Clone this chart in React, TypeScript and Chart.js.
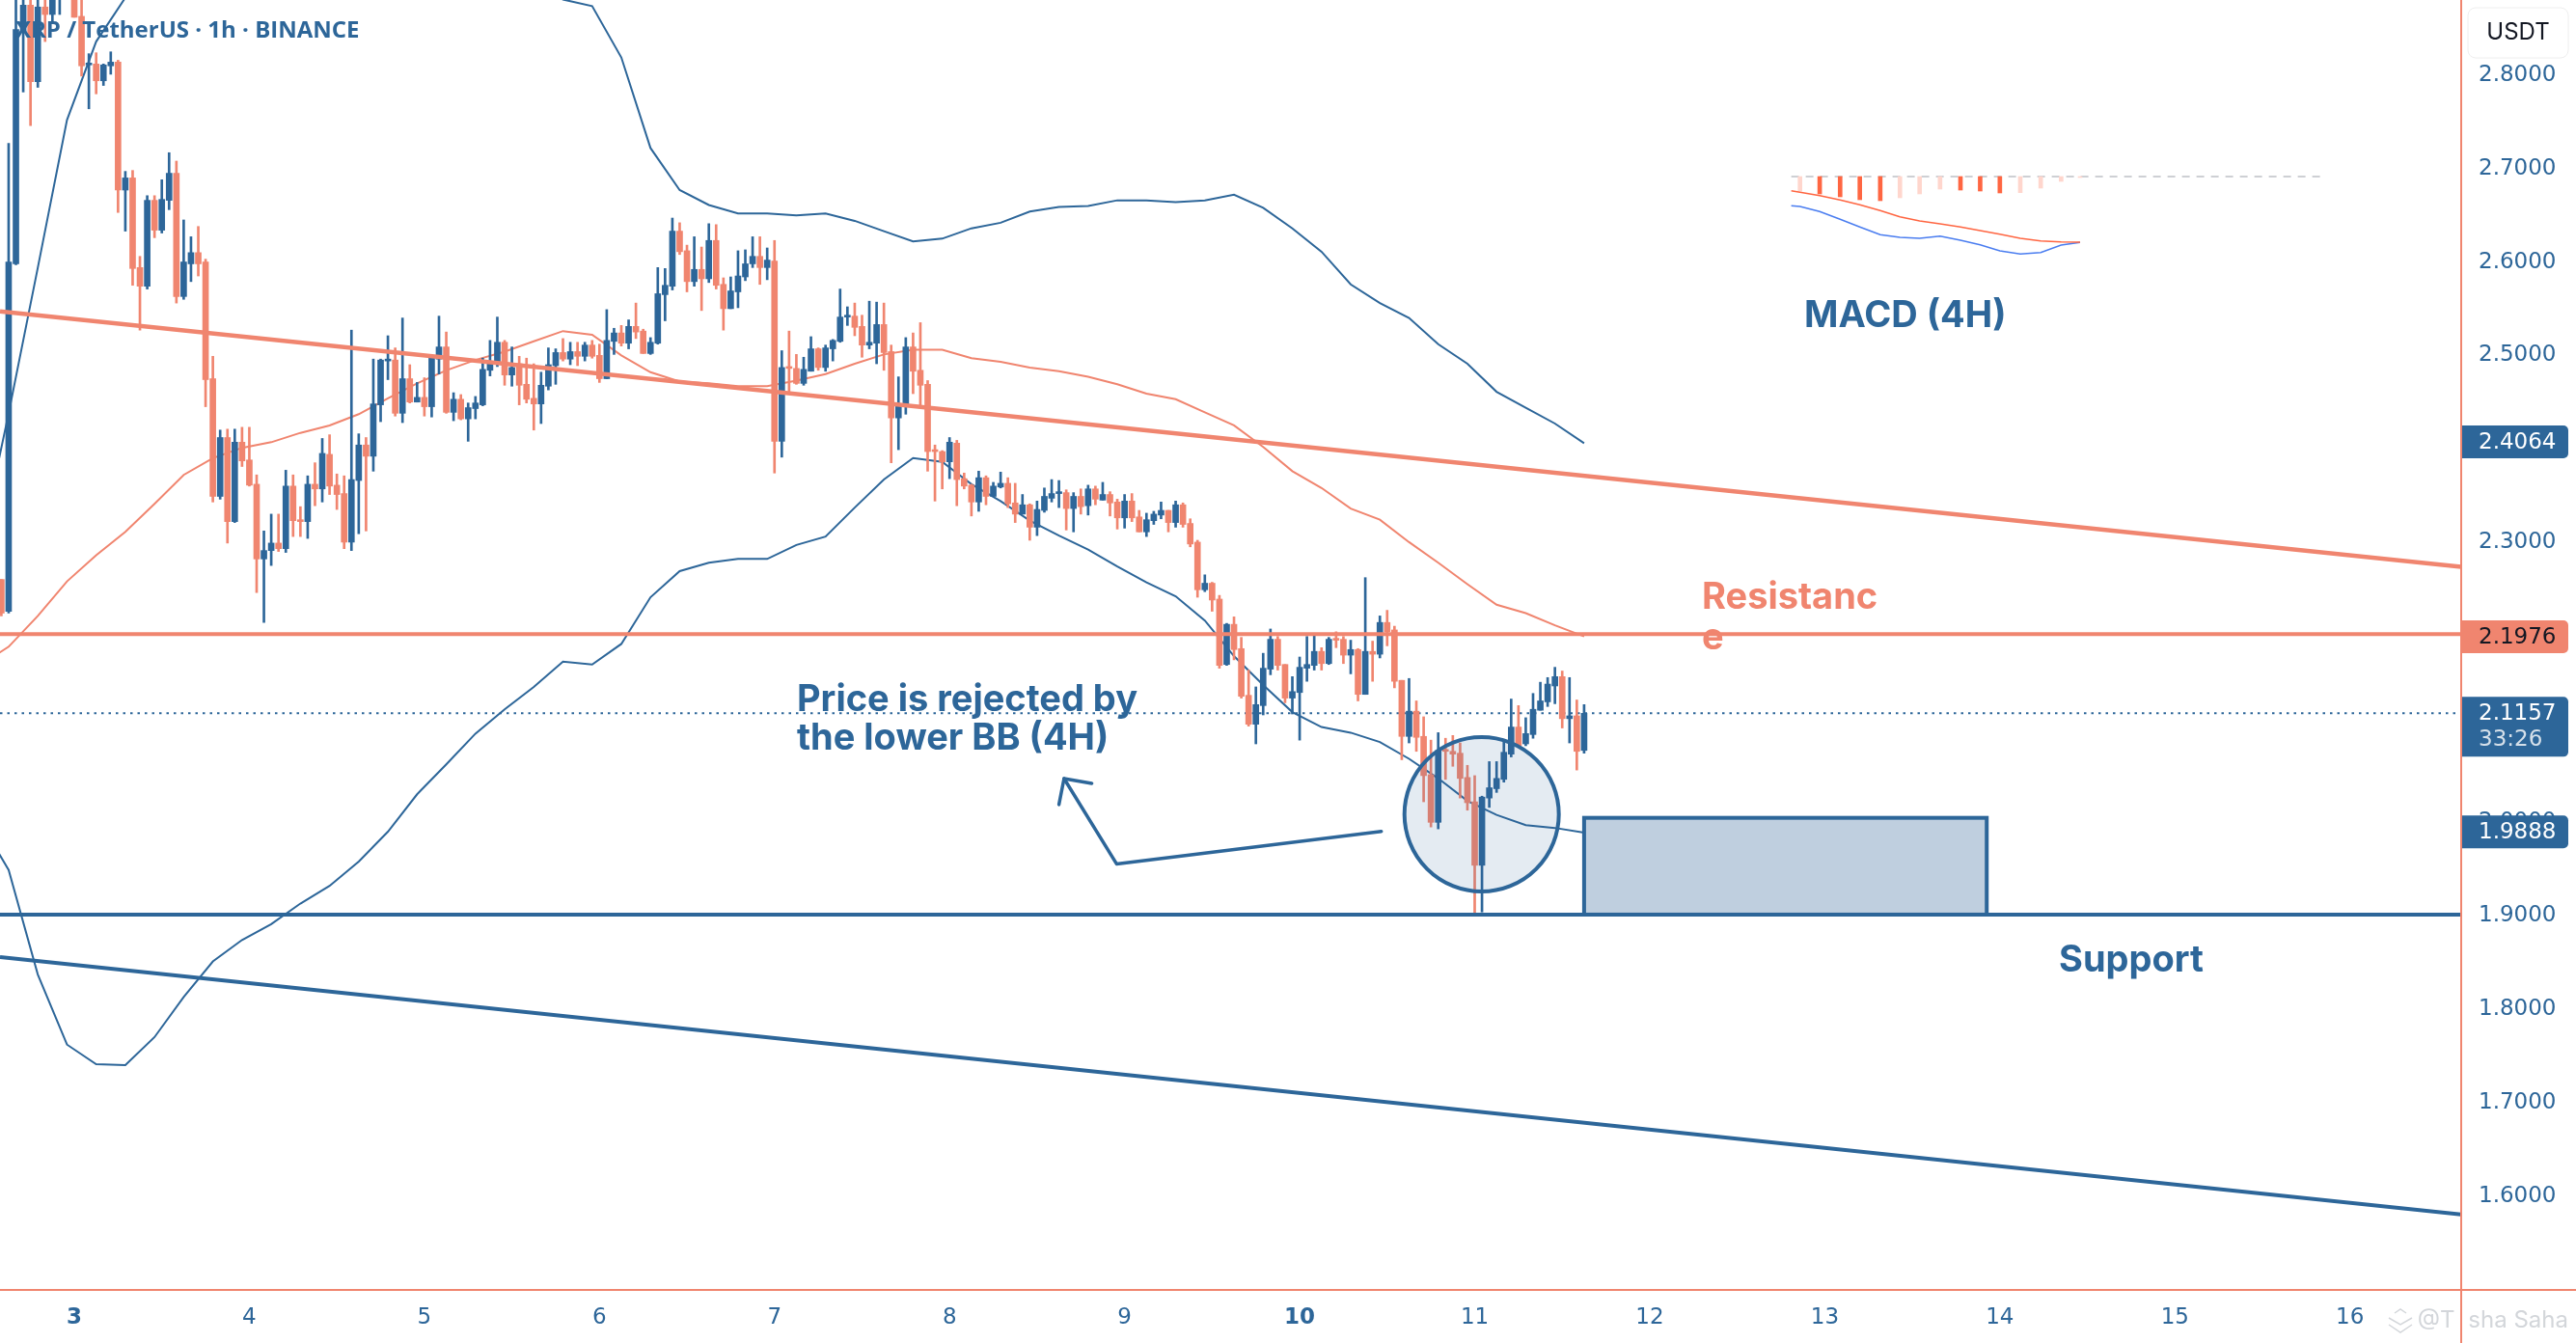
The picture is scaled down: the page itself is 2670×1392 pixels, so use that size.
import { Chart, registerables } from "chart.js";
import React, { useEffect, useRef } from "react";

Chart.register(...registerables);

const BLUE = "#2d6699";
const SALMON = "#f0856f";
const AXIS_FONT = "'DejaVu Sans'";

// one candle per hour, hour 0 is the start of day 3
const firstHour = -10;
const candleOpen = [
  2.259, 2.225, 2.597, 2.845, 2.874, 2.792, 2.872, 2.864, 2.882, 2.915,
  2.882, 2.862, 2.81, 2.811, 2.793, 2.809, 2.813, 2.676, 2.689, 2.593,
  2.573, 2.665, 2.633, 2.665, 2.694, 2.562, 2.597, 2.609, 2.599, 2.474,
  2.348, 2.411, 2.321, 2.406, 2.387, 2.361, 2.281, 2.29, 2.298, 2.292,
  2.359, 2.323, 2.321, 2.361, 2.356, 2.393, 2.36, 2.351, 2.299, 2.365,
  2.403, 2.391, 2.446, 2.493, 2.494, 2.437, 2.474, 2.449, 2.454, 2.444,
  2.495, 2.508, 2.438, 2.452, 2.431, 2.442, 2.446, 2.483, 2.49, 2.513,
  2.478, 2.49, 2.468, 2.453, 2.447, 2.466, 2.488, 2.502, 2.495, 2.503,
  2.498, 2.51, 2.499, 2.474, 2.514, 2.523, 2.512, 2.53, 2.525, 2.501,
  2.512, 2.564, 2.573, 2.632, 2.611, 2.578, 2.591, 2.581, 2.622, 2.575,
  2.549, 2.567, 2.583, 2.597, 2.605, 2.593, 2.6, 2.407, 2.487, 2.485,
  2.469, 2.482, 2.506, 2.486, 2.506, 2.514, 2.54, 2.541, 2.53, 2.51,
  2.512, 2.532, 2.503, 2.432, 2.446, 2.508, 2.483, 2.468, 2.398, 2.396,
  2.385, 2.405, 2.367, 2.36, 2.342, 2.368, 2.348, 2.358, 2.362, 2.341,
  2.329, 2.339, 2.315, 2.333, 2.346, 2.351, 2.352, 2.335, 2.348, 2.338,
  2.356, 2.344, 2.35, 2.342, 2.325, 2.343, 2.326, 2.31, 2.322, 2.328,
  2.333, 2.32, 2.339, 2.319, 2.299, 2.248, 2.255, 2.238, 2.168, 2.211,
  2.185, 2.135, 2.104, 2.124, 2.163, 2.195, 2.168, 2.132, 2.138, 2.164,
  2.167, 2.182, 2.169, 2.196, 2.195, 2.178, 2.184, 2.136, 2.182, 2.179,
  2.213, 2.205, 2.151, 2.091, 2.118, 2.091, 2.05, 1.999, 2.077, 2.075,
  2.073, 2.047, 2.021, 1.953, 2.025, 2.035, 2.045, 2.072, 2.101, 2.083,
  2.093, 2.119, 2.128, 2.145, 2.155, 2.11, 2.113, 2.076,
];
const candleHigh = [
  2.259, 2.726, 2.89, 2.89, 2.89, 2.89, 2.89, 2.895, 2.905, 2.925,
  2.9, 2.885, 2.822, 2.823, 2.811, 2.824, 2.815, 2.696, 2.697, 2.605,
  2.67, 2.67, 2.687, 2.716, 2.707, 2.644, 2.626, 2.637, 2.602, 2.498,
  2.419, 2.42, 2.42, 2.422, 2.422, 2.371, 2.311, 2.329, 2.329, 2.376,
  2.371, 2.337, 2.37, 2.384, 2.41, 2.414, 2.372, 2.37, 2.526, 2.415,
  2.411, 2.495, 2.495, 2.52, 2.507, 2.539, 2.489, 2.47, 2.475, 2.496,
  2.541, 2.524, 2.459, 2.457, 2.448, 2.455, 2.496, 2.515, 2.54, 2.515,
  2.508, 2.498, 2.496, 2.49, 2.481, 2.507, 2.506, 2.517, 2.513, 2.513,
  2.513, 2.515, 2.511, 2.548, 2.528, 2.531, 2.537, 2.555, 2.527, 2.518,
  2.593, 2.592, 2.646, 2.641, 2.617, 2.626, 2.615, 2.64, 2.639, 2.582,
  2.583, 2.611, 2.612, 2.626, 2.626, 2.614, 2.622, 2.504, 2.525, 2.5,
  2.497, 2.519, 2.507, 2.51, 2.516, 2.57, 2.551, 2.555, 2.542, 2.557,
  2.556, 2.555, 2.51, 2.476, 2.518, 2.523, 2.534, 2.472, 2.403, 2.397,
  2.411, 2.408, 2.373, 2.361, 2.375, 2.37, 2.363, 2.374, 2.368, 2.362,
  2.35, 2.34, 2.343, 2.357, 2.366, 2.365, 2.355, 2.352, 2.356, 2.36,
  2.359, 2.363, 2.353, 2.345, 2.35, 2.351, 2.333, 2.33, 2.332, 2.342,
  2.333, 2.343, 2.341, 2.324, 2.301, 2.264, 2.256, 2.242, 2.212, 2.219,
  2.197, 2.162, 2.144, 2.18, 2.206, 2.198, 2.168, 2.155, 2.176, 2.198,
  2.201, 2.186, 2.197, 2.203, 2.198, 2.194, 2.185, 2.261, 2.193, 2.22,
  2.226, 2.209, 2.151, 2.153, 2.129, 2.112, 2.087, 2.095, 2.089, 2.092,
  2.084, 2.06, 2.049, 2.027, 2.064, 2.064, 2.086, 2.131, 2.124, 2.111,
  2.137, 2.149, 2.154, 2.165, 2.161, 2.154, 2.13, 2.125,
];
const candleLow = [
  2.22, 2.223, 2.596, 2.781, 2.745, 2.786, 2.835, 2.856, 2.864, 2.892,
  2.861, 2.798, 2.763, 2.779, 2.788, 2.8, 2.652, 2.632, 2.574, 2.526,
  2.57, 2.625, 2.63, 2.655, 2.555, 2.559, 2.578, 2.584, 2.444, 2.342,
  2.345, 2.298, 2.32, 2.38, 2.359, 2.245, 2.213, 2.274, 2.289, 2.288,
  2.305, 2.305, 2.303, 2.338, 2.342, 2.35, 2.334, 2.292, 2.29, 2.308,
  2.311, 2.375, 2.428, 2.473, 2.434, 2.427, 2.448, 2.449, 2.434, 2.433,
  2.479, 2.437, 2.429, 2.43, 2.407, 2.431, 2.445, 2.477, 2.487, 2.467,
  2.466, 2.446, 2.448, 2.419, 2.426, 2.462, 2.468, 2.493, 2.489, 2.488,
  2.493, 2.496, 2.47, 2.474, 2.5, 2.509, 2.506, 2.517, 2.501, 2.5,
  2.511, 2.536, 2.569, 2.607, 2.567, 2.573, 2.547, 2.577, 2.57, 2.526,
  2.549, 2.55, 2.579, 2.593, 2.575, 2.58, 2.373, 2.39, 2.458, 2.468,
  2.467, 2.482, 2.483, 2.482, 2.493, 2.513, 2.531, 2.52, 2.497, 2.506,
  2.49, 2.483, 2.384, 2.398, 2.436, 2.458, 2.445, 2.375, 2.343, 2.356,
  2.367, 2.338, 2.356, 2.327, 2.332, 2.339, 2.348, 2.357, 2.336, 2.32,
  2.329, 2.301, 2.306, 2.331, 2.342, 2.336, 2.312, 2.31, 2.329, 2.328,
  2.339, 2.344, 2.327, 2.313, 2.314, 2.321, 2.31, 2.305, 2.318, 2.324,
  2.31, 2.315, 2.315, 2.294, 2.24, 2.246, 2.225, 2.164, 2.167, 2.173,
  2.132, 2.102, 2.083, 2.114, 2.157, 2.162, 2.127, 2.115, 2.087, 2.15,
  2.162, 2.162, 2.168, 2.186, 2.169, 2.158, 2.129, 2.136, 2.15, 2.175,
  2.188, 2.143, 2.066, 2.084, 2.075, 2.021, 1.994, 1.992, 2.045, 2.059,
  2.025, 2.012, 1.899, 1.903, 2.015, 2.031, 2.042, 2.069, 2.079, 2.081,
  2.089, 2.119, 2.123, 2.126, 2.1, 2.084, 2.055, 2.073,
];
const candleClose = [
  2.223, 2.599, 2.848, 2.874, 2.792, 2.872, 2.864, 2.883, 2.895, 2.9,
  2.861, 2.809, 2.812, 2.793, 2.81, 2.813, 2.676, 2.689, 2.592, 2.573,
  2.665, 2.633, 2.666, 2.694, 2.562, 2.599, 2.609, 2.597, 2.473, 2.348,
  2.411, 2.321, 2.406, 2.386, 2.36, 2.281, 2.29, 2.298, 2.292, 2.359,
  2.322, 2.321, 2.361, 2.356, 2.394, 2.359, 2.35, 2.299, 2.366, 2.403,
  2.391, 2.447, 2.494, 2.495, 2.437, 2.474, 2.449, 2.454, 2.444, 2.496,
  2.508, 2.438, 2.452, 2.431, 2.443, 2.448, 2.484, 2.491, 2.513, 2.478,
  2.486, 2.467, 2.452, 2.447, 2.467, 2.489, 2.502, 2.495, 2.503, 2.498,
  2.51, 2.498, 2.474, 2.515, 2.523, 2.512, 2.53, 2.524, 2.501, 2.513,
  2.565, 2.574, 2.632, 2.61, 2.578, 2.591, 2.581, 2.622, 2.574, 2.549,
  2.568, 2.584, 2.597, 2.605, 2.593, 2.601, 2.407, 2.486, 2.485, 2.469,
  2.484, 2.506, 2.486, 2.507, 2.515, 2.54, 2.542, 2.529, 2.51, 2.513,
  2.532, 2.502, 2.432, 2.447, 2.508, 2.482, 2.467, 2.396, 2.396, 2.385,
  2.406, 2.366, 2.359, 2.342, 2.368, 2.348, 2.359, 2.362, 2.34, 2.329,
  2.339, 2.315, 2.334, 2.348, 2.351, 2.353, 2.335, 2.348, 2.337, 2.356,
  2.345, 2.35, 2.341, 2.325, 2.343, 2.325, 2.31, 2.323, 2.329, 2.333,
  2.32, 2.339, 2.318, 2.297, 2.248, 2.255, 2.237, 2.167, 2.211, 2.184,
  2.134, 2.104, 2.125, 2.164, 2.195, 2.167, 2.132, 2.139, 2.165, 2.168,
  2.182, 2.169, 2.195, 2.194, 2.178, 2.184, 2.136, 2.182, 2.179, 2.213,
  2.203, 2.15, 2.091, 2.118, 2.09, 2.049, 1.999, 2.076, 2.075, 2.072,
  2.046, 2.02, 1.953, 2.026, 2.036, 2.046, 2.074, 2.101, 2.081, 2.094,
  2.12, 2.129, 2.147, 2.155, 2.11, 2.113, 2.075, 2.1157,
];

// Bollinger bands from the 4h chart, one value every 4 hours
const bandStart = -13;
const bandStep = 4;
const bandUpper = [
  2.289, 2.437, 2.593, 2.751, 2.835, 2.882,
  null, null, null, null, null, null, null, null, null, null, null, null, null,
  2.9, 2.88, 2.873, 2.818, 2.721, 2.676, 2.66, 2.651, 2.651, 2.649, 2.651,
  2.643, 2.632, 2.621, 2.624, 2.635, 2.641, 2.653, 2.658, 2.659, 2.665,
  2.665, 2.663, 2.665, 2.671, 2.657, 2.635, 2.61, 2.575, 2.555, 2.539,
  2.511, 2.49, 2.46, 2.443, 2.426, 2.405,
];
const bandBasis = [
  2.167, 2.187, 2.22, 2.257, 2.285, 2.31, 2.34, 2.371, 2.389, 2.4,
  2.406, 2.416, 2.424, 2.436, 2.453, 2.469, 2.483, 2.494, 2.503, 2.514,
  2.525, 2.521, 2.499, 2.481, 2.471, 2.469, 2.466, 2.466, 2.472, 2.479,
  2.49, 2.5, 2.505, 2.505, 2.496, 2.492, 2.486, 2.482, 2.476, 2.468,
  2.458, 2.452, 2.438, 2.424, 2.401, 2.375, 2.357, 2.335, 2.323, 2.299,
  2.277, 2.254, 2.232, 2.223, 2.21, 2.198,
];
const bandLower = [
  2.001, 1.948, 1.836, 1.761, 1.74, 1.739, 1.769, 1.812, 1.85, 1.873,
  1.89, 1.912, 1.931, 1.957, 1.989, 2.029, 2.061, 2.094, 2.12, 2.144,
  2.171, 2.168, 2.19, 2.24, 2.268, 2.277, 2.281, 2.281, 2.296, 2.305,
  2.336, 2.366, 2.389, 2.385, 2.361, 2.343, 2.322, 2.306, 2.291, 2.273,
  2.256, 2.241, 2.215, 2.177, 2.146, 2.117, 2.101, 2.095, 2.085, 2.067,
  2.046, 2.022, 2.007, 1.996, 1.993, 1.988,
];

// pasted MACD snapshot, placed along the hour axis
const macdHours = [235.4, 236.6, 239.3, 242.1, 244.8, 247.6, 250.3, 253, 255.8, 258.6, 261.3, 264, 266.8, 269.6, 272.4, 275];
const macdHist = [-0.015, -0.018, -0.021, -0.024, -0.025, -0.022, -0.018, -0.013, -0.014, -0.015, -0.017, -0.0167, -0.012, -0.005, -0.001];
const macdSignal = [-0.0147, -0.0163, -0.0197, -0.0243, -0.0293, -0.0353, -0.0417, -0.046, -0.049, -0.0523, -0.056, -0.0597, -0.064, -0.0667, -0.0677, -0.068];
const macdLine = [-0.0303, -0.031, -0.0363, -0.0443, -0.0523, -0.0603, -0.063, -0.064, -0.0617, -0.066, -0.0707, -0.077, -0.0803, -0.0787, -0.071, -0.0683];

const xMin = -10.185;
const xMax = 327.25;

const priceTicks = [1.6, 1.7, 1.8, 1.9, 2.0, 2.1, 2.2, 2.3, 2.4, 2.5, 2.6, 2.7, 2.8];
const dayTicks = [3, 4, 5, 6, 7, 8, 9, 10, 11, 12, 13, 14, 15, 16];
const boldDays = [3, 10];

const resistanceLevel = 2.2004;
const supportLevel = 1.9002;
const lastPrice = 2.1157;
const fallingTrend = [
  { x: xMin, y: 2.546 },
  { x: xMax, y: 2.2726 },
];
const supportTrend = [
  { x: xMin, y: 1.8547 },
  { x: xMax, y: 1.579 },
];
const arrowShaft = [
  { x: 179.2, y: 1.9893 },
  { x: 142.9, y: 1.9545 },
  { x: 135.7, y: 2.0458 },
];
const arrowHead = [
  { x: 135, y: 2.018 },
  { x: 135.7, y: 2.0458 },
  { x: 139.5, y: 2.0407 },
];
const bounceCircle = { x: 192.95, y: 2.0076 };
const supportBox = { x1: 207, x2: 262.2, top: 2.0038, bottom: 1.9002 };

const priceTags = [
  { value: 2.4064, text: "2.4064", bg: BLUE, fg: "#ffffff" },
  { value: 2.1976, text: "2.1976", bg: SALMON, fg: "#131722" },
  { value: 1.9888, text: "1.9888", bg: BLUE, fg: "#ffffff" },
];

const notes = [
  { text: "Resistanc", x: 1764, y: 620, color: SALMON },
  { text: "e", x: 1764, y: 662, color: SALMON },
  { text: "Price is rejected by", x: 826, y: 726, color: BLUE },
  { text: "the lower BB (4H)", x: 826, y: 766, color: BLUE },
  { text: "MACD (4H)", x: 1870, y: 328, color: BLUE },
  { text: "Support", x: 2134, y: 996, color: BLUE },
];

const hline = (level: number, from = xMin, to = xMax) => [
  { x: from, y: level },
  { x: to, y: level },
];

const bandSeries = (values: (number | null)[]) =>
  values.map((y, i) => ({ x: bandStart + i * bandStep, y }));

const lineSet = (data: any[], color: string, width: number, order: number, extra = {}) => ({
  type: "line" as const,
  data,
  borderColor: color,
  borderWidth: width,
  pointRadius: 0,
  tension: 0,
  order,
  ...extra,
});

const noPadding = (axis: any) => {
  axis.paddingLeft = 0;
  axis.paddingRight = 0;
  axis.paddingTop = 0;
  axis.paddingBottom = 0;
};

function tag(ctx: CanvasRenderingContext2D, top: number, height: number, color: string) {
  ctx.fillStyle = color;
  ctx.beginPath();
  ctx.roundRect(2552, top, 110, height, [0, 5, 5, 0]);
  ctx.fill();
}

const overlayPlugin = {
  id: "overlay",
  beforeDatasetsDraw(chart: Chart) {
    const { ctx, scales } = chart;
    const left = scales.x.getPixelForValue(supportBox.x1);
    const right = scales.x.getPixelForValue(supportBox.x2);
    const top = scales.y.getPixelForValue(supportBox.top);
    const bottom = scales.y.getPixelForValue(supportBox.bottom);
    ctx.save();
    ctx.fillStyle = "#bfcfdf";
    ctx.strokeStyle = BLUE;
    ctx.lineWidth = 4;
    ctx.fillRect(left, top, right - left, bottom - top);
    ctx.strokeRect(left, top, right - left, bottom - top);
    ctx.restore();
  },
  afterDraw(chart: Chart) {
    const { ctx, scales } = chart;
    ctx.save();

    ctx.textBaseline = "middle";
    ctx.textAlign = "left";
    ctx.fillStyle = BLUE;
    ctx.font = "700 24px 'Open Sans'";
    ctx.fillText("XRP / TetherUS · 1h · BINANCE", 16, 32);

    ctx.font = "700 38px Inter";
    for (const n of notes) {
      ctx.fillStyle = n.color;
      ctx.fillText(n.text, n.x, n.y);
    }

    // watermark, the axis sits on top of it
    ctx.font = "24px Inter";
    ctx.fillStyle = "#d3d6da";
    ctx.textAlign = "right";
    ctx.fillText("@Trisha Saha", 2662, 1369);
    ctx.strokeStyle = "#d3d6da";
    ctx.lineWidth = 1.5;
    ctx.beginPath();
    ctx.moveTo(2476, 1366);
    ctx.lineTo(2488, 1373);
    ctx.lineTo(2500, 1366);
    ctx.moveTo(2476, 1373);
    ctx.lineTo(2488, 1381);
    ctx.lineTo(2500, 1373);
    ctx.moveTo(2482, 1361);
    ctx.lineTo(2488, 1357);
    ctx.lineTo(2494, 1361);
    ctx.stroke();
    ctx.fillStyle = "#ffffff";
    ctx.fillRect(2544, 1345, 13, 40);

    ctx.strokeStyle = SALMON;
    ctx.lineWidth = 2;
    ctx.beginPath();
    ctx.moveTo(2551, 0);
    ctx.lineTo(2551, chart.height);
    ctx.moveTo(0, 1337);
    ctx.lineTo(chart.width, 1337);
    ctx.stroke();

    // price tags cover the ticks under them
    ctx.textAlign = "left";
    ctx.font = `23px ${AXIS_FONT}`;
    for (const t of priceTags) {
      const y = scales.y.getPixelForValue(t.value);
      tag(ctx, y - 17, 34, t.bg);
      ctx.fillStyle = t.fg;
      ctx.fillText(t.text, 2569, y + 1);
    }
    const lastY = scales.y.getPixelForValue(lastPrice);
    tag(ctx, lastY - 17, 62, BLUE);
    ctx.fillStyle = "#ffffff";
    ctx.fillText("2.1157", 2569, lastY + 1);
    ctx.fillStyle = "#d5e0ea";
    ctx.fillText("33:26", 2569, lastY + 28);

    ctx.fillStyle = "#ffffff";
    ctx.strokeStyle = "#eeeeee";
    ctx.lineWidth = 1;
    ctx.beginPath();
    ctx.roundRect(2558, 8, 104, 52, 8);
    ctx.fill();
    ctx.stroke();
    ctx.fillStyle = "#131722";
    ctx.textAlign = "center";
    ctx.font = "24px Inter";
    ctx.fillText("USDT", 2610, 34);

    ctx.restore();
  },
};

function renderChart(canvas: HTMLCanvasElement) {
  const candleHours = candleOpen.map((_, i) => firstHour + i);
  const candleColors = candleOpen.map((o, i) => (candleClose[i] >= o ? BLUE : SALMON));
  const histColors = macdHist.map((v, i) => (i > 0 && v < macdHist[i - 1] ? "#ff6642" : "#ffd6cd"));

  return new Chart(canvas, {
    type: "bar",
    data: {
      datasets: [
        lineSet(bandSeries(bandUpper), BLUE, 2, 12),
        lineSet(bandSeries(bandLower), BLUE, 2, 12),
        lineSet(bandSeries(bandBasis), SALMON, 2, 12),
        lineSet(hline(lastPrice, xMin, 326.7), BLUE, 2, 11, { borderDash: [2.5, 5] }),
        {
          type: "bar",
          data: candleHours.map((x, i) => ({ x, y: [candleLow[i], candleHigh[i]] })),
          backgroundColor: candleColors,
          barThickness: 2,
          grouped: false,
          order: 9,
        },
        {
          type: "bar",
          data: candleHours.map((x, i) => ({ x, y: [candleOpen[i], candleClose[i]] })),
          backgroundColor: candleColors,
          barThickness: 6,
          grouped: false,
          order: 8,
        },
        lineSet(fallingTrend, SALMON, 4.5, 5),
        lineSet(hline(resistanceLevel), SALMON, 4, 5),
        lineSet(hline(supportLevel), BLUE, 4, 5),
        lineSet(supportTrend, BLUE, 4, 5),
        lineSet(arrowShaft, BLUE, 3.5, 4, { borderCapStyle: "round", borderJoinStyle: "round" }),
        lineSet(arrowHead, BLUE, 3.5, 4, { borderCapStyle: "round", borderJoinStyle: "round" }),
        {
          type: "line",
          data: [bounceCircle],
          showLine: false,
          pointRadius: 80,
          pointBorderWidth: 4,
          pointBorderColor: BLUE,
          pointBackgroundColor: "rgba(45,102,153,0.13)",
          order: 3,
        },
        lineSet(hline(0, 235.4, 308.2), "#bfc1c6", 1.5, 3, { yAxisID: "macd", borderDash: [8, 7] }),
        {
          type: "bar",
          data: macdHist.map((y, i) => ({ x: macdHours[i + 1], y })),
          backgroundColor: histColors,
          barThickness: 4,
          grouped: false,
          yAxisID: "macd",
          order: 2,
        },
        lineSet(macdSignal.map((y, i) => ({ x: macdHours[i], y })), "#ff6642", 1.5, 1, { yAxisID: "macd" }),
        lineSet(macdLine.map((y, i) => ({ x: macdHours[i], y })), "#4a7df0", 1.5, 1, { yAxisID: "macd" }),
      ] as any,
    },
    options: {
      animation: false,
      responsive: false,
      devicePixelRatio: 1,
      events: [],
      layout: { padding: 0, autoPadding: false },
      plugins: { legend: { display: false }, tooltip: { enabled: false } },
      scales: {
        x: {
          type: "linear",
          offset: false,
          min: xMin,
          max: xMax,
          grid: { display: false, drawTicks: false },
          border: { display: false },
          afterBuildTicks: (axis: any) => {
            axis.ticks = dayTicks.map((d) => ({ value: (d - 3) * 24 }));
          },
          afterFit: (axis: any) => {
            axis.height = 55;
            noPadding(axis);
          },
          ticks: {
            autoSkip: false,
            maxRotation: 0,
            padding: 15,
            color: BLUE,
            callback: (v: any) => String(3 + v / 24),
            font: (c: any) => ({
              family: AXIS_FONT,
              size: 23,
              weight: boldDays.includes(3 + c.tick?.value / 24) ? "700" : "400",
            }),
          },
        },
        y: {
          type: "linear",
          position: "right",
          min: 1.4983,
          max: 2.8795,
          grid: { display: false, drawTicks: false },
          border: { display: false },
          afterBuildTicks: (axis: any) => {
            axis.ticks = priceTicks.map((value) => ({ value }));
          },
          afterFit: (axis: any) => {
            axis.width = 119;
            noPadding(axis);
          },
          ticks: {
            autoSkip: false,
            padding: 18,
            labelOffset: 1,
            color: BLUE,
            font: { family: AXIS_FONT, size: 23 },
            callback: (v: any) => Number(v).toFixed(4),
          },
        },
        macd: {
          type: "linear",
          display: false,
          min: -1.154,
          max: 0.183,
        },
      },
    },
    plugins: [overlayPlugin],
  } as any);
}

export default function App() {
  const canvasRef = useRef<HTMLCanvasElement>(null);

  useEffect(() => {
    if (!canvasRef.current) return;
    const chart = renderChart(canvasRef.current);
    return () => chart.destroy();
  }, []);

  return (
    <div style={{ position: "absolute", left: 0, top: 0, width: 2670, height: 1392, overflow: "hidden", background: "#fff" }}>
      <canvas ref={canvasRef} width={2670} height={1392} style={{ display: "block" }} />
    </div>
  );
}
